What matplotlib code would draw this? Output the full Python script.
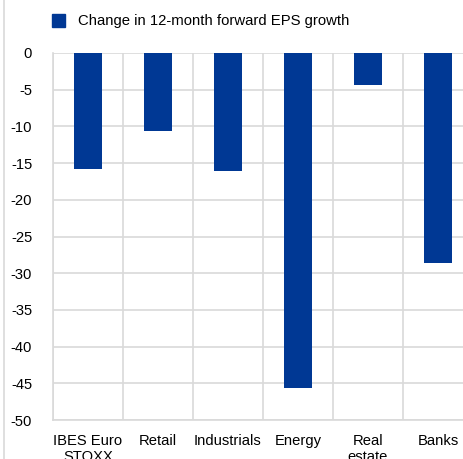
import matplotlib.pyplot as plt
import numpy as np
from matplotlib.patches import Rectangle
from matplotlib.lines import Line2D

plt.rcParams['font.family'] = ['Liberation Sans', 'DejaVu Sans']

categories = ["IBES Euro\nSTOXX", "Retail", "Industrials", "Energy", "Real\nestate", "Banks"]
eps_change = [-15.8, -10.6, -16.1, -45.7, -4.3, -28.6]
yticks = [0, -5, -10, -15, -20, -25, -30, -35, -40, -45, -50]

W, H = 463, 459
fig = plt.figure(figsize=(W / 100, H / 100), dpi=100)

# plot area: left edge at x=53, categories 70px wide, y from 53 (0) to 420 (-50)
left, right, top, bottom = 53, 473, 53, 420
ax = fig.add_axes([left / W, 1 - bottom / H, (right - left) / W, (bottom - top) / H])

blue = "#003894"
grid = "#d9d9d9"
x = np.arange(len(categories))
ax.bar(x, eps_change, width=0.4, color=blue, zorder=3)

ax.set_xlim(-0.5, len(categories) - 0.5)
ax.set_ylim(-50, 0)
ax.set_yticks(yticks)
ax.set_yticklabels([str(v) for v in yticks])
ax.set_xticks(x)
ax.set_xticklabels(categories)
ax.set_xticks(np.arange(-0.5, len(categories), 1), minor=True)

ax.grid(axis="y", color=grid, linewidth=1.2, zorder=0)
ax.grid(axis="x", which="minor", color=grid, linewidth=1.2, zorder=0)
ax.tick_params(axis="both", which="both", length=0, labelsize=10.6, colors="black")
ax.tick_params(axis="y", pad=15)
ax.tick_params(axis="x", pad=10)
for s in ["top", "right"]:
    ax.spines[s].set_visible(False)
for s in ["left", "bottom"]:
    ax.spines[s].set_color(grid)
    ax.spines[s].set_linewidth(1.2)

# legend
fig.patches.append(Rectangle((52 / W, 1 - 27 / H), 13 / W, 13 / H,
                             transform=fig.transFigure, color=blue))
fig.text(78 / W, 1 - 21 / H, "Change in 12-month forward EPS growth",
         fontsize=10.75, va="center", ha="left")

# outer border line on the left
fig.lines.append(Line2D([4 / W, 4 / W], [0, 1], transform=fig.transFigure,
                        color=grid, linewidth=1.2))

fig.savefig("out.png", dpi=100)
